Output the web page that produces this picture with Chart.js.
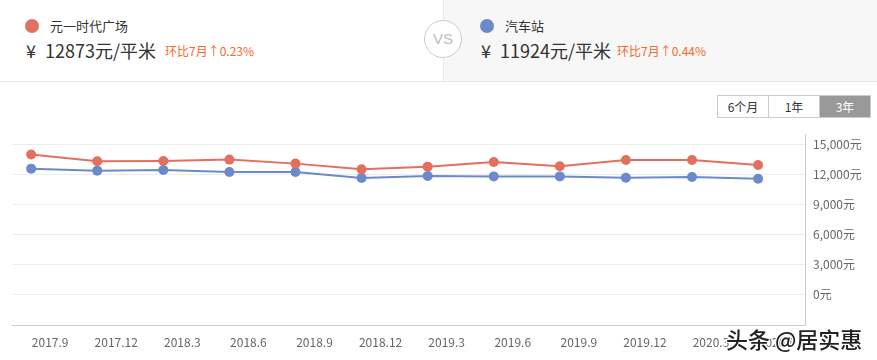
<!DOCTYPE html>
<html lang="zh-cn">
<head>
<meta charset="UTF-8" />
<script src="https://cdn.jsdelivr.net/npm/chart.js"></script>
<style>
  body { margin: 0; width: 877px; height: 360px; overflow: hidden; background: #fff;
    font-family: "Microsoft YaHei", "Noto Sans CJK SC", sans-serif; position: relative; }
  .topo { position: absolute; left: 0; top: 0; width: 877px; height: 81px; border-bottom: 1px solid #e6e6e6; }
  .lado_dir { position: absolute; left: 443px; top: 0; width: 434px; height: 81px; background: #f7f7f7; border-left: 1px solid #e8e8e8; }
  .bola { position: absolute; width: 14px; height: 14px; border-radius: 50%; }
  .nome { position: absolute; font-size: 13px; color: #333; line-height: 16px; }
  .preco { position: absolute; font-size: 18px; color: #333; line-height: 22px; }
  .preco span { margin-right: 9px; }
  .var { position: absolute; font-size: 12px; color: #f5692c; line-height: 14px; }
  .vs { position: absolute; left: 424px; top: 20px; width: 36px; height: 36px; border: 1px solid #ccc;
    border-radius: 50%; background: #fff; color: #bbb; font-size: 15px; text-align: center; line-height: 36px;
    font-family: Arial, "Liberation Sans", sans-serif; }
  .botoes { position: absolute; left: 717px; top: 95px; display: flex; border: 1px solid #ccc; }
  .botoes div { width: 50px; height: 21px; line-height: 21px; text-align: center; font-size: 12px; color: #333; }
  .botoes div + div { border-left: 1px solid #ccc; }
  .botoes .agora { background: #999; color: #fff; }
  .grafico { position: absolute; left: 0; top: 119px; width: 877px; height: 241px; }
  .marca { position: absolute; left: 726px; top: 322px; font-size: 22px; color: #222; font-weight: 500;
    font-family: "Noto Sans CJK SC", sans-serif;
    text-shadow: -1px -1px 0 #fff, 1px -1px 0 #fff, -1px 1px 0 #fff, 1px 1px 0 #fff; }
</style>
</head>
<body>
  <div class="topo">
    <div class="lado_dir"></div>
    <div class="bola" style="left:25px; top:19px; background:#e3705f"></div>
    <div class="nome" style="left:50px; top:18px">元一时代广场</div>
    <div class="preco" style="left:26px; top:39px"><span>¥</span>12873元/平米</div>
    <div class="var" style="left:165px; top:44px">环比7月↑0.23%</div>
    <div class="vs">VS</div>
    <div class="bola" style="left:480px; top:19px; background:#6b8acb"></div>
    <div class="nome" style="left:505px; top:18px">汽车站</div>
    <div class="preco" style="left:481px; top:39px"><span>¥</span>11924元/平米</div>
    <div class="var" style="left:617px; top:44px">环比7月↑0.44%</div>
  </div>
  <div class="botoes"><div>6个月</div><div>1年</div><div class="agora">3年</div></div>
  <div class="grafico"><canvas id="grafico"></canvas></div>
  <div class="marca">头条 @居实惠</div>

<script>
  // dados
  const meses = ["2017.9", "2017.12", "2018.3", "2018.6", "2018.9", "2018.12",
    "2019.3", "2019.6", "2019.9", "2019.12", "2020.3", "2020.6"];
  const precoYuanyi = [13970, 13300, 13330, 13470, 13070, 12500, 12770, 13230, 12800, 13430, 13430, 12930];
  const precoEstacao = [12570, 12370, 12430, 12230, 12230, 11630, 11830, 11800, 11800, 11670, 11730, 11570];
  const ticksY = [0, 3000, 6000, 9000, 12000, 15000];

  function pontos(valores) {
    return valores.map(function (v, i) { return { x: i, y: v }; });
  }

  const fonte = { family: '"Microsoft YaHei", "Noto Sans CJK SC", sans-serif', size: 12 };

  const config = {
    type: "line",
    data: {
      datasets: [
        {
          label: "元一时代广场",
          data: pontos(precoYuanyi),
          borderColor: "#e3705f",
          backgroundColor: "#e3705f",
          borderWidth: 2,
          pointRadius: 5,
          pointBorderWidth: 0,
          tension: 0
        },
        {
          label: "汽车站",
          data: pontos(precoEstacao),
          borderColor: "#6b8acb",
          backgroundColor: "#6b8acb",
          borderWidth: 2,
          pointRadius: 5,
          pointBorderWidth: 0,
          tension: 0
        }
      ]
    },
    options: {
      responsive: true,
      maintainAspectRatio: false,
      animation: false,
      layout: { padding: { left: 12, top: 3, right: 0, bottom: 0 } },
      plugins: { legend: { display: false }, tooltip: { enabled: false } },
      scales: {
        x: {
          type: "linear",
          min: -0.29,
          max: 11.71,
          afterBuildTicks: function (eixo) {
            eixo.ticks = meses.map(function (m, i) { return { value: i }; });
          },
          afterFit: function (eixo) { eixo.height = 35; },
          grid: { display: false, drawTicks: false },
          border: { display: true, color: "#ccc" },
          ticks: {
            autoSkip: false,
            maxRotation: 0,
            padding: 10,
            labelOffset: 19,
            color: "#666",
            font: fonte,
            callback: function (v) { return meses[v]; }
          }
        },
        y: {
          position: "right",
          min: -3000,
          max: 16000,
          afterBuildTicks: function (eixo) {
            eixo.ticks = ticksY.map(function (v) { return { value: v }; });
          },
          afterFit: function (eixo) { eixo.width = 72; },
          grid: { color: "#ececec", drawTicks: false },
          border: { display: true, color: "#ccc" },
          ticks: {
            padding: 8,
            color: "#666",
            font: fonte,
            callback: function (v) { return v.toLocaleString("en-US") + "元"; }
          }
        }
      }
    }
  };

  new Chart(document.getElementById("grafico"), config);
</script>
</body>
</html>
